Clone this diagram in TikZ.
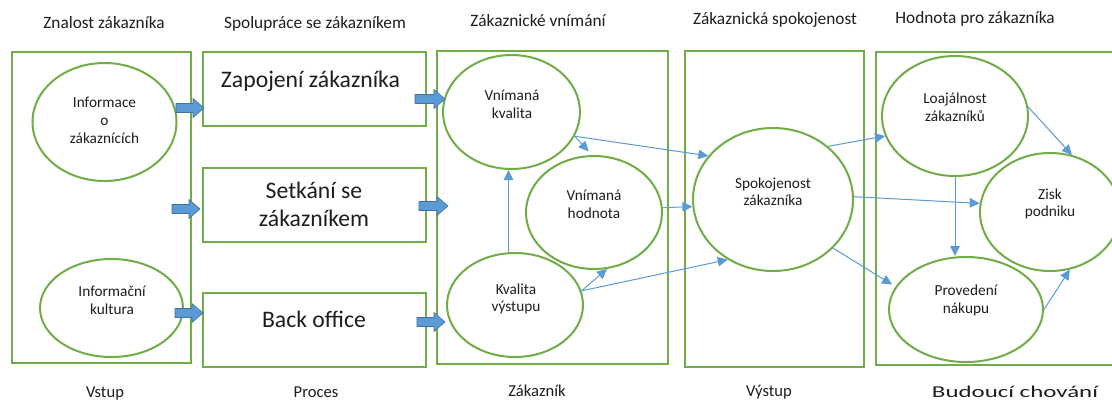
\documentclass[tikz,border=0pt]{standalone}
\usepackage{fontspec}
\setmainfont{Carlito}
\usepackage{graphicx}
\usetikzlibrary{shapes.geometric,arrows.meta}

\definecolor{panelgreen}{HTML}{70AD47}
\definecolor{linkblue}{HTML}{5B9BD5}
\definecolor{arrowedge}{HTML}{41719C}
\definecolor{inktext}{HTML}{1E1E1E}

\tikzset{
  panel/.style={draw=panelgreen, line width=2pt, rectangle, inner sep=0pt},
  bubble/.style={draw=panelgreen, line width=2pt, ellipse, inner sep=0pt},
  bubbletext/.style={font=\fontsize{15.3}{17.5}\selectfont, align=center, text=inktext, inner sep=0pt},
  boxtext/.style={font=\fontsize{23.7}{28.3}\selectfont, align=center, text=inktext, inner sep=0pt},
  heading/.style={font=\fontsize{17.3}{20}\selectfont, text=inktext, inner sep=0pt, anchor=base},
  footer/.style={font=\fontsize{16.6}{19}\selectfont, text=inktext, inner sep=0pt, anchor=base},
  link/.style={draw=linkblue, line width=1pt, -{Triangle[length=10pt,width=9.5pt]}},
  fatarrow/.style={fill=linkblue, draw=arrowedge, line width=0.6pt},
}

% wide block arrow: tail x, centre y, tip x
\newcommand\fatarrowat[3]{%
  \draw[fatarrow] (#1,#2-4.5) -- (#3-11,#2-4.5) -- (#3-11,#2-9.5) -- (#3,#2)
    -- (#3-11,#2+9.5) -- (#3-11,#2+4.5) -- (#1,#2+4.5) -- cycle;}

\begin{document}
\begin{tikzpicture}[x=1pt, y=-1pt]
  \useasboundingbox (0,0) rectangle (1112,400);
  \clip (0,0) rectangle (1112,400);
  \fill[white] (0,0) rectangle (1112,400);

  % column headings
  \node[heading] (h1) at (104,28) {Znalost zákazníka};
  \node[heading] (h2) at (315,28) {Spolupráce se zákazníkem};
  \node[heading] (h3) at (538,26) {Zákaznické vnímání};
  \node[heading] (h4) at (775,24) {Zákaznická spokojenost};
  \node[heading] (h5) at (975,23) {Hodnota pro zákazníka};

  % column frames
  \node[panel, minimum width=179.3pt, minimum height=311.3pt] (b1) at (101.35,207.35) {};
  \node[panel, minimum width=223pt, minimum height=74pt] (b2) at (314.5,89) {};
  \node[panel, minimum width=223pt, minimum height=74pt] (b3) at (314.5,205) {};
  \node[panel, minimum width=223pt, minimum height=74pt] (b4) at (314.5,330) {};
  \node[panel, minimum width=231pt, minimum height=313pt] (b5) at (552.5,207.5) {};
  \node[panel, minimum width=179pt, minimum height=316pt] (b6) at (774.5,209) {};
  \node[panel, minimum width=259pt, minimum height=313pt] (b7) at (1005.5,208.5) {};

  % process steps
  \node[boxtext, anchor=base] (b2t) at (310.5,87) {Zapojení zákazníka};
  \node[boxtext] (b3t) at (314,204.5) {Setkání se\\zákazníkem};
  \node[boxtext, anchor=base] (b4t) at (314,327.5) {Back office};

  % ellipses
  \node[bubble, minimum width=144pt, minimum height=118pt] (ik) at (104.5,122) {};
  \node[bubble, minimum width=143pt, minimum height=98pt] (kul) at (111.5,308) {};
  \node[bubble, minimum width=137pt, minimum height=114pt] (vk) at (511.5,112) {};
  \node[bubble, minimum width=136pt, minimum height=113pt] (vh) at (594,212.5) {};
  \node[bubble, minimum width=136pt, minimum height=104pt] (kv) at (515,305) {};
  \node[bubble, minimum width=160pt, minimum height=143pt] (sp) at (773,199.5) {};
  \node[bubble, minimum width=146pt, minimum height=120pt] (lo) at (955,116) {};
  \node[bubble, minimum width=140pt, minimum height=118pt] (zi) at (1050,212) {};
  \node[bubble, minimum width=154pt, minimum height=105pt] (pr) at (966,309.5) {};

  \node[bubbletext, font=\fontsize{15.3}{18}\selectfont] (ik-t) at (104.5,120) {Informace\\o\\zákaznících};
  \node[bubbletext] (kul-t) at (112,300.5) {Informační\\kultura};
  \node[bubbletext] (vk-t) at (512,104.5) {Vnímaná\\kvalita};
  \node[bubbletext] (vh-t) at (594,204.5) {Vnímaná\\hodnota};
  \node[bubbletext] (kv-t) at (516,299) {Kvalita\\výstupu};
  \node[bubbletext] (sp-t) at (773,191.5) {Spokojenost\\zákazníka};
  \node[bubbletext] (lo-t) at (955,107) {Loajálnost\\zákazníků};
  \node[bubbletext] (zi-t) at (1050,204) {Zisk\\podniku};
  \node[bubbletext] (pr-t) at (966,300.5) {Provedení\\nákupu};

  % wide arrows between the first columns
  \fatarrowat{176}{108}{204}
  \fatarrowat{172}{209}{200}
  \fatarrowat{175}{313}{203}
  \fatarrowat{415}{99}{445}
  \fatarrowat{419}{206}{448}
  \fatarrowat{417}{322}{445}

  % relations
  \draw[link] (kv.97.5) -- (kv.97.5 |- vk.south);
  \draw[link, shorten >=5pt] (vk.-21) -- (vh.92);
  \draw[link] (vk.-21) -- (sp.146);
  \draw[link] (vh.4) -- (sp.185);
  \draw[link] (kv.12) -- (vh.-77);
  \draw[link] (kv.12) -- (sp.233);
  \draw[link] (sp.44) -- (lo.196);
  \draw[link] (sp.2) -- (zi.173);
  \draw[link, shorten >=4pt] (sp.-39) -- (pr.162);
  \draw[link] (lo.south) -- (lo.south |- pr.north);
  \draw[link] (lo.7) -- (zi.69);
  \draw[link] (pr.0) -- (zi.-71);

  % row of stage names
  \node[footer] (f1) at (105,397) {Vstup};
  \node[footer] (f2) at (316,397) {Proces};
  \node[footer] (f3) at (537,396) {Zákazník};
  \node[footer] (f4) at (769,396.5) {Výstup};
  \node[footer] (f5) at (1015,397) {\scalebox{1.5}[1]{Budoucí chování}};
\end{tikzpicture}
\end{document}
